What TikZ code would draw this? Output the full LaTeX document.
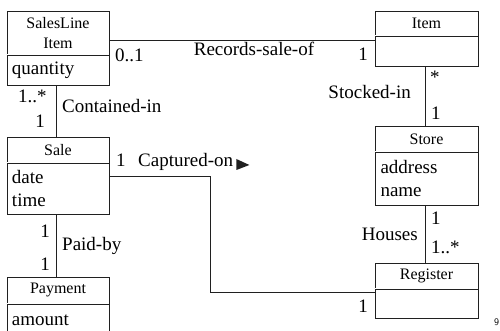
\documentclass[tikz,border=0pt]{standalone}
\usepackage{fontspec}
\setmainfont{Liberation Serif}
\usetikzlibrary{positioning}
\definecolor{ink}{HTML}{202020}
\tikzset{
  classname/.style={draw=ink,line width=0.8pt,minimum width=102pt,inner sep=1pt,
                    align=center,font=\fontsize{16}{20}\selectfont},
  classattr/.style={draw=ink,line width=0.8pt,minimum width=102pt,text width=92pt,
                    inner xsep=5pt,inner ysep=1pt,align=left,
                    font=\fontsize{19}{22.5}\selectfont},
  sepline/.style={draw=ink,double,line width=0.6pt,double distance=0.9pt},
  assoc/.style={draw=ink,line width=0.8pt},
  mult/.style={font=\fontsize{19}{22}\selectfont,inner sep=0pt}
}

\begin{document}
\begin{tikzpicture}[x=1pt,y=-1pt]
  \useasboundingbox (0,0) rectangle (500,331);

  % classes
  \node[classname,minimum height=43pt,anchor=north] (sli) at (58,11) {SalesLine\\Item};
  \node[classattr,minimum height=30pt,below=0pt of sli] (slia) {quantity};
  \node[classname,minimum height=24pt,minimum width=103pt,anchor=north] (item) at (426.5,11) {Item};
  \node[classattr,minimum height=30pt,minimum width=103pt,below=0pt of item] (itema) {};
  \node[classname,minimum height=25pt,minimum width=103pt,anchor=north] (store) at (426.5,126) {Store};
  \node[classattr,minimum height=53pt,minimum width=103pt,below=0pt of store] (storea) {address\\name};
  \node[classname,minimum height=25pt,minimum width=103pt,anchor=north] (reg) at (426.5,263) {Register};
  \node[classattr,minimum height=29pt,minimum width=103pt,below=0pt of reg] (rega) {};
  \node[classname,minimum height=25pt,anchor=north] (sale) at (58,137) {Sale};
  \node[classattr,minimum height=51pt,below=0pt of sale] (salea) {date\\time};
  \node[classname,minimum height=26pt,anchor=north] (pay) at (58,277) {Payment};
  \node[classattr,minimum height=32pt,below=0pt of pay] (paya) {amount};

  \foreach \c in {sli,item,store,reg,sale,pay}
    \draw[sepline] (\c.south west) -- (\c.south east);

  % associations
  \draw[assoc] ([yshift=-7.5pt]sli.east) -- ([yshift=-7.5pt]sli.east -| itema.west);
  \draw[assoc] ([xshift=-2pt]slia.south) -- ([xshift=-2pt]sale.north);
  \draw[assoc] ([xshift=-1.5pt]itema.south) -- ([xshift=-1.5pt]store.north);
  \draw[assoc] ([xshift=-1.5pt]storea.south) -- ([xshift=-1.5pt]reg.north);
  \draw[assoc] ([xshift=-2pt]salea.south) -- ([xshift=-2pt]pay.north);
  \draw[assoc] ([yshift=-14pt]salea.north east) -- ++(101,0)
    |- ([yshift=-4pt]rega.north west);

  % labels
  \node[mult,anchor=base west] (m1) at (115,62) {0..1};
  \node[mult,anchor=base] (l1) at (254,56) {Records-sale-of};
  \node[mult,anchor=base east] (m2) at (368,61) {1};
  \node[mult,anchor=base west] (m3) at (18,103) {1..*};
  \node[mult,anchor=base east] (m4) at (45,128) {1};
  \node[mult,anchor=base west] (l2) at (62,113) {Contained-in};
  \node[mult,anchor=base west] (m5) at (430,84) {*};
  \node[mult,anchor=base west] (m6) at (431,120) {1};
  \node[mult,anchor=base east] (l3) at (411,99) {Stocked-in};
  \node[mult,anchor=base west] (m7) at (116,167) {1};
  \node[mult,anchor=base west] (l4) at (138,167) {Captured-on};
  \fill[ink] ([shift={(3,-8)}]l4.base east) -- ++(13,6) -- ++(-13,5) -- cycle;
  \node[mult,anchor=base east] (m8) at (368,312) {1};
  \node[mult,anchor=base west] (m9) at (431,224) {1};
  \node[mult,anchor=base west] (m10) at (431,253) {1..*};
  \node[mult,anchor=base east] (l5) at (418,240) {Houses};
  \node[mult,anchor=base east] (m11) at (50,237) {1};
  \node[mult,anchor=base east] (m12) at (50,270) {1};
  \node[mult,anchor=base west] (l6) at (62,250) {Paid-by};
  \node[font=\sffamily\fontsize{10}{12}\selectfont,inner sep=0pt,anchor=base west] (pg) at (494,325) {9};
\end{tikzpicture}
\end{document}
